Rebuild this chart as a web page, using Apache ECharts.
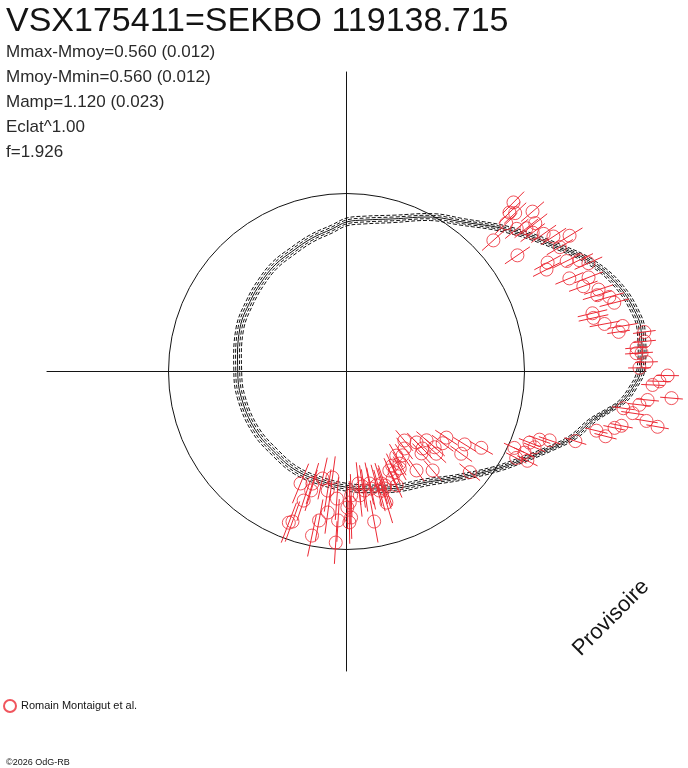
<!DOCTYPE html>
<html>
<head>
<meta charset="utf-8">
<script src="https://cdn.jsdelivr.net/npm/echarts@6.0.0/dist/echarts.min.js"></script>
<style>
  html, body { margin: 0; padding: 0; background: #fff; }
  #chart-container { width: 688px; height: 768px; }
</style>
</head>
<body>
<div id="chart-container"></div>
<script>
const titleText = 'VSX175411=SEKBO 119138.715';
const paramLines = [
    'Mmax-Mmoy=0.560 (0.012)',
    'Mmoy-Mmin=0.560 (0.012)',
    'Mamp=1.120 (0.023)',
    'Eclat^1.00',
    'f=1.926'
];
const seriesName = 'Romain Montaigut et al.';
const footerText = '\u00a92026 OdG-RB';
const stampText = 'Provisoire';

// courbe modèle (boucle fermée) : phase (0..1, sens trigo depuis +x) et éclat relatif (1 = Mmoy)
const modelPhase = [0.000, 0.022, 0.031, 0.048, 0.066, 0.084, 0.114, 0.147, 0.169, 0.203,
    0.231, 0.250, 0.266, 0.291, 0.318, 0.344, 0.371, 0.400, 0.439, 0.500,
    0.538, 0.590, 0.638, 0.675, 0.711, 0.750, 0.789, 0.818, 0.849, 0.880,
    0.908, 0.924, 0.942, 0.955, 0.969, 0.977, 0.983, 0.991];
const modelFlux = [1.652, 1.671, 1.660, 1.605, 1.510, 1.385, 1.211, 1.056, 0.993, 0.896,
    0.857, 0.840, 0.805, 0.773, 0.740, 0.721, 0.694, 0.669, 0.646, 0.611,
    0.609, 0.608, 0.608, 0.624, 0.631, 0.650, 0.680, 0.718, 0.766, 0.869,
    1.003, 1.093, 1.220, 1.324, 1.410, 1.494, 1.561, 1.611];
// courbes pointillées (incertitude), décalage en éclat
const bandOffsets = [-0.022, -0.011, 0.011, 0.022];

// observations
const obsPhase = [
    0.126, 0.123, 0.120, 0.113, 0.119, 0.106, 0.111, 0.107, 0.102, 0.097, 0.092, 0.087, 0.116, 0.084, 0.095, 0.079,
    0.075, 0.074, 0.071, 0.067, 0.063, 0.059, 0.055, 0.050, 0.047, 0.044, 0.040, 0.037, 0.034, 0.029, 0.026,
    0.023, 0.021, 0.016, 0.013, 0.010, 0.010, 0.005, 0.002, 0.998, 0.995, 0.993, 0.987, 0.985, 0.982, 0.979, 0.977,
    0.974, 0.972, 0.969, 0.967, 0.963, 0.961, 0.953, 0.948, 0.946, 0.941, 0.932, 0.932, 0.939, 0.925, 0.927,
    0.861, 0.874, 0.887, 0.907, 0.898, 0.912, 0.918, 0.874, 0.887, 0.868, 0.882, 0.901, 0.844, 0.835, 0.833, 0.848,
    0.864, 0.891, 0.830, 0.822, 0.821, 0.853, 0.815, 0.816, 0.815,
    0.688, 0.703, 0.715, 0.729, 0.704, 0.699, 0.725, 0.738, 0.729, 0.721, 0.695, 0.692, 0.741, 0.753, 0.717, 0.740,
    0.779, 0.797, 0.767, 0.782, 0.791, 0.798, 0.774, 0.793, 0.751, 0.756, 0.754, 0.767, 0.802, 0.755, 0.772, 0.783, 0.800
];
const obsFlux = [
    1.335, 1.279, 1.300, 1.378, 1.224, 1.349, 1.248, 1.292, 1.305, 1.351, 1.388, 1.467, 1.106, 1.387, 1.161, 1.285,
    1.261, 1.384, 1.450, 1.489, 1.357, 1.459, 1.414, 1.489, 1.473, 1.535, 1.553, 1.420, 1.420, 1.474, 1.572,
    1.545, 1.688, 1.683, 1.635, 1.632, 1.661, 1.686, 1.646, 1.804, 1.759, 1.721, 1.832, 1.699, 1.656, 1.569, 1.624,
    1.708, 1.775, 1.575, 1.539, 1.443, 1.500, 1.344, 1.205, 1.150, 1.103, 1.036, 1.099, 1.139, 1.070, 1.133,
    0.506, 0.560, 0.593, 0.673, 0.674, 0.780, 0.870, 0.608, 0.653, 0.624, 0.684, 0.793, 0.567, 0.549, 0.597, 0.681,
    0.737, 0.894, 0.621, 0.588, 0.628, 0.542, 0.654, 0.699, 0.606,
    0.680, 0.658, 0.616, 0.601, 0.697, 0.764, 0.677, 0.716, 0.799, 0.851, 0.896, 0.909, 0.838, 0.848, 0.942, 0.963,
    0.857, 0.770, 0.633, 0.642, 0.662, 0.659, 0.676, 0.694, 0.764, 0.697, 0.736, 0.700, 0.677, 0.821, 0.652, 0.672, 0.691
];
const obsErr = [
    0.085, 0.085, 0.085, 0.085, 0.085, 0.085, 0.085, 0.085, 0.085, 0.085, 0.085, 0.085, 0.085, 0.085, 0.085, 0.085,
    0.085, 0.085, 0.085, 0.085, 0.085, 0.085, 0.085, 0.085, 0.085, 0.085, 0.085, 0.085, 0.085, 0.085, 0.085,
    0.064, 0.064, 0.064, 0.064, 0.064, 0.064, 0.064, 0.064, 0.064, 0.064, 0.064, 0.064, 0.064, 0.064, 0.064, 0.064,
    0.064, 0.064, 0.064, 0.064, 0.064, 0.064, 0.064, 0.064, 0.064, 0.064, 0.064, 0.064, 0.064, 0.064, 0.064,
    0.075, 0.075, 0.075, 0.075, 0.075, 0.075, 0.075, 0.075, 0.075, 0.075, 0.075, 0.075, 0.075, 0.075, 0.075, 0.075,
    0.075, 0.075, 0.075, 0.075, 0.075, 0.075, 0.075, 0.075, 0.075,
    0.120, 0.120, 0.120, 0.120, 0.120, 0.120, 0.120, 0.120, 0.120, 0.120, 0.120, 0.120, 0.120, 0.120, 0.120, 0.120,
    0.120, 0.120, 0.120, 0.120, 0.120, 0.120, 0.120, 0.120, 0.120, 0.120, 0.120, 0.120, 0.120, 0.120, 0.120, 0.120, 0.120
];

const axisReach = 1.685; // demi-longueur des axes, en éclat
const radiusMax = 2.0;   // étendue de l'axe radial (laisse place aux points > axisReach)

const FONT = '"Liberation Sans", Arial, sans-serif';
const RED = '#ec2a35';
const INK = '#141414';
const PX_PER_UNIT = 178;

const chart = echarts.init(document.getElementById('chart-container'));

const modelData = modelPhase.map((p, i) => [modelFlux[i], p]);
const obsData = obsPhase.map((p, i) => [obsFlux[i], p, obsErr[i]]);

// une courbe fermée lissée, tracée via les axes polaires
function curveSeries(curve, dashed) {
    return {
        type: 'custom', coordinateSystem: 'polar', polarIndex: 0, silent: true, z: 3,
        encode: { radius: 0, angle: 1 },
        data: [curve[0]],
        renderItem: function (params, api) {
            const pts = curve.map(d => api.coord(d));
            return {
                type: 'polygon',
                shape: { points: pts, smooth: 0.4 },
                style: { fill: null, stroke: INK, lineWidth: 1, lineDash: dashed ? [4, 2] : null }
            };
        }
    };
}

const series = [
    // croix des axes
    {
        type: 'line', coordinateSystem: 'polar', polarIndex: 0, silent: true,
        symbol: 'none', lineStyle: { color: INK, width: 1 },
        data: [[axisReach, 0], [axisReach, 0.5]]
    },
    {
        type: 'line', coordinateSystem: 'polar', polarIndex: 0, silent: true,
        symbol: 'none', lineStyle: { color: INK, width: 1 },
        data: [[axisReach, 0.25], [axisReach, 0.75]]
    },
    curveSeries(modelData, false)
];
bandOffsets.forEach(off => {
    series.push(curveSeries(modelData.map(d => [d[0] + off, d[1]]), true));
});
// barres d'erreur radiales
series.push({
    type: 'custom', coordinateSystem: 'polar', polarIndex: 0, silent: true,
    encode: { radius: 0, angle: 1 },
    data: obsData, z: 4,
    renderItem: function (params, api) {
        const a = api.value(1);
        const p1 = api.coord([api.value(0) - api.value(2), a]);
        const p2 = api.coord([api.value(0) + api.value(2), a]);
        return {
            type: 'line',
            shape: { x1: p1[0], y1: p1[1], x2: p2[0], y2: p2[1] },
            style: { stroke: RED, lineWidth: 1 }
        };
    }
});
series.push({
    name: seriesName,
    type: 'scatter', coordinateSystem: 'polar', polarIndex: 0,
    symbol: 'circle', symbolSize: 13, z: 5,
    itemStyle: { color: 'rgba(0,0,0,0)', borderColor: RED, borderWidth: 1 },
    data: obsData
});

const option = {
    backgroundColor: '#fff',
    animation: false,
    title: {
        text: titleText,
        subtext: paramLines.join('\n'),
        left: 1, top: 0, itemGap: 1,
        textStyle: { fontSize: 34, fontWeight: 'normal', color: INK, fontFamily: FONT },
        subtextStyle: { fontSize: 17, lineHeight: 25, color: '#2a2a2a', fontFamily: FONT }
    },
    legend: {
        data: [{ name: seriesName, icon: 'circle' }],
        left: 3, top: 699, padding: 0, itemWidth: 12, itemHeight: 12,
        textStyle: { fontSize: 11, color: INK, fontFamily: FONT }
    },
    polar: [
        { center: [346.5, 371.5], radius: radiusMax * PX_PER_UNIT },
        { center: [346.5, 371.5], radius: PX_PER_UNIT }
    ],
    angleAxis: [
        { polarIndex: 0, type: 'value', min: 0, max: 1, startAngle: 0, clockwise: false, show: false },
        {
            polarIndex: 1, type: 'value', min: 0, max: 1, startAngle: 0, clockwise: false,
            axisLine: { show: true, lineStyle: { color: INK, width: 1 } },
            axisTick: { show: false }, axisLabel: { show: false },
            splitLine: { show: false }, splitArea: { show: false }
        }
    ],
    radiusAxis: [
        { polarIndex: 0, type: 'value', min: 0, max: radiusMax, show: false },
        { polarIndex: 1, type: 'value', min: 0, max: 1, show: false }
    ],
    graphic: [
        {
            type: 'text', x: 611, y: 618, rotation: Math.PI / 4,
            style: { text: stampText, fontSize: 22, fontFamily: FONT, fill: INK, align: 'center', verticalAlign: 'middle' }
        },
        {
            type: 'text', left: 6, top: 758,
            style: { text: footerText, fontSize: 9, fontFamily: FONT, fill: INK }
        }
    ],
    series: series
};

chart.setOption(option);
</script>
</body>
</html>
